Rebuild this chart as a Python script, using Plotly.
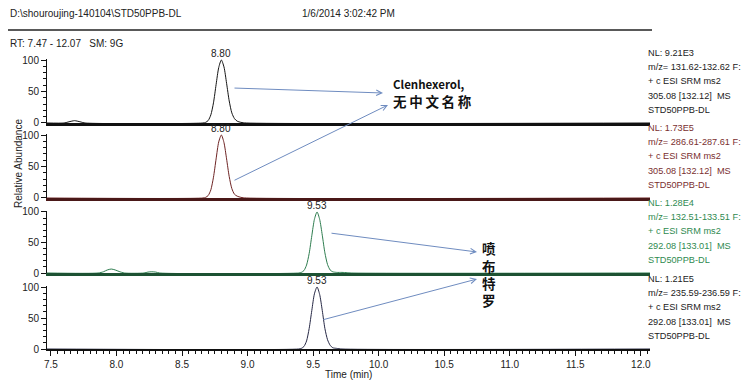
import plotly.graph_objects as go

# ---------------- data ----------------
t1 = [7.47, 7.60, 7.63, 7.66, 7.68, 7.70, 7.73, 7.76, 8.66, 8.68, 8.70, 8.72, 8.74, 8.76, 8.78,
      8.80, 8.82, 8.84, 8.86, 8.88, 8.90, 8.92, 8.95, 8.99, 12.07]
y1 = [0, 0, 1.5, 3, 3.7, 3, 1.5, 0, 0, 1, 4, 13, 32, 61, 88, 100, 89, 63, 35, 16, 7, 3, 1, 0, 0]

t2 = [7.47, 8.66, 8.68, 8.70, 8.72, 8.74, 8.76, 8.78, 8.80, 8.82, 8.84, 8.86, 8.88, 8.90, 8.92,
      8.95, 8.99, 12.07]
y2 = [0, 0, 1, 4, 13, 33, 62, 89, 100, 88, 62, 34, 15, 6, 3, 1, 0, 0]

t3 = [7.47, 7.86, 7.90, 7.93, 7.96, 7.99, 8.02, 8.06, 8.21, 8.24, 8.27, 8.30, 8.33, 9.39, 9.41,
      9.43, 9.45, 9.47, 9.49, 9.51, 9.53, 9.55, 9.57, 9.59, 9.61, 9.63, 9.65, 9.68, 9.72, 9.76,
      9.79, 12.07]
y3 = [0, 0, 2, 5, 6.5, 5, 2.5, 0, 0, 1.5, 2, 1.5, 0, 0, 1, 4, 13, 32, 61, 88, 100, 88, 62, 33,
      14, 5, 2, 1, 1, 0.5, 0, 0]

t4 = [7.47, 9.39, 9.41, 9.43, 9.45, 9.47, 9.49, 9.51, 9.53, 9.55, 9.57, 9.59, 9.61, 9.63, 9.65,
      9.68, 9.72, 12.07]
y4 = [0, 0, 1, 4, 13, 33, 62, 89, 100, 88, 62, 33, 15, 6, 2, 1, 0, 0]

peak_rt = [8.80, 8.80, 9.53, 9.53]
peak_labels = ["8.80", "8.80", "9.53", "9.53"]

info_texts = [
    ["NL: 9.21E3", "m/z= 131.62-132.62 F:", "+ c ESI SRM ms2", "305.08 [132.12]  MS", "STD50PPB-DL"],
    ["NL: 1.73E5", "m/z= 286.61-287.61 F:", "+ c ESI SRM ms2", "305.08 [132.12]  MS", "STD50PPB-DL"],
    ["NL: 1.28E4", "m/z= 132.51-133.51 F:", "+ c ESI SRM ms2", "292.08 [133.01]  MS", "STD50PPB-DL"],
    ["NL: 1.21E5", "m/z= 235.59-236.59 F:", "+ c ESI SRM ms2", "292.08 [133.01]  MS", "STD50PPB-DL"],
]

x_ticks = [7.5, 8.0, 8.5, 9.0, 9.5, 10.0, 10.5, 11.0, 11.5, 12.0]
x_tick_labels = ["7.5", "8.0", "8.5", "9.0", "9.5", "10.0", "10.5", "11.0", "11.5", "12.0"]
y_ticks = [0, 50, 100]

header_left = "D:\\shouroujing-140104\\STD50PPB-DL"
header_date = "1/6/2014 3:02:42 PM"
header_rt = "RT: 7.47 - 12.07   SM: 9G"

# ---------------- layout helpers ----------------
OFF = 8  # page body margin offset
W, H = 755 - OFF, 388 - OFF
L, R, T, B = 47 - OFF, 105, 48 - OFF, 39
PW, PH = W - L - R, H - T - B


def px(p):
    return (p - OFF - L) / PW


def py(p):
    return (H + OFF - B - p) / PH


zero_px = [123, 198, 273, 349]
hund_px = [60, 135, 212, 287]
trace_colors = ["#151515", "#6e2424", "#2e7d4f", "#262845"]
base_colors = ["#111111", "#4a1818", "#1d5233", "#111111"]
text_colors = ["#222222", "#7a2f2f", "#2f8a50", "#222222"]

ts = [t1, t2, t3, t4]
ys = [y1, y2, y3, y4]

fig = go.Figure()
font_main = "Liberation Sans, Arial, sans-serif"

for i in range(4):
    xa = "x" if i == 3 else "x" + str(i + 2)
    ya = "y" if i == 3 else "y" + str(i + 2)
    fig.add_trace(go.Scatter(x=ts[i], y=ys[i], mode="lines", xaxis=xa, yaxis=ya,
                             line=dict(color=trace_colors[i], width=1, shape="spline", smoothing=0.7),
                             hoverinfo="skip", showlegend=False))
    z, h = zero_px[i], hund_px[i]
    top = z - (z - h) * 1.015
    dom = [py(z), py(top)]
    yname = "yaxis" if i == 3 else "yaxis" + str(i + 2)
    xname = "xaxis" if i == 3 else "xaxis" + str(i + 2)
    fig.layout[yname] = dict(domain=dom, range=[0, 101.5], anchor=xa, tickvals=y_ticks,
                             ticks="outside", ticklen=5, tickwidth=1, tickcolor="#111",
                             minor=dict(dtick=10, tick0=0, ticks="outside", ticklen=3,
                                        tickcolor="#111", tickwidth=1),
                             showline=True, linecolor="#111", linewidth=1, showgrid=False,
                             zeroline=False, tickfont=dict(size=10, family=font_main, color="#222"),
                             fixedrange=True)
    xdict = dict(range=[7.47, 12.07], anchor=ya, showline=True, linecolor=base_colors[i],
                 linewidth=2.5 if i < 3 else 2, showgrid=False, zeroline=False, fixedrange=True)
    if i == 3:
        xdict.update(tickvals=x_ticks, ticktext=x_tick_labels, ticks="outside", ticklen=5,
                     tickwidth=1, tickcolor="#111",
                     minor=dict(dtick=0.05, tick0=7.5, ticks="outside", ticklen=3,
                                tickcolor="#111", tickwidth=1),
                     tickfont=dict(size=10, family=font_main, color="#222"))
    else:
        xdict.update(matches="x", showticklabels=False, ticks="")
    fig.layout[xname] = xdict

annotations = []


def label(xp, yp, text, size, color="#222", family=font_main, xanchor="center", angle=0, **kw):
    d = dict(x=px(xp), y=py(yp), xref="paper", yref="paper", text=text,
             showarrow=False, xanchor=xanchor, yanchor="middle", textangle=angle,
             font=dict(size=size, family=family, color=color))
    d.update(kw)
    annotations.append(d)


# peak labels
for i in range(4):
    ya = "y" if i == 3 else "y" + str(i + 2)
    xa = "x" if i == 3 else "x" + str(i + 2)
    annotations.append(dict(x=peak_rt[i], y=100, xref=xa, yref=ya, text=peak_labels[i],
                            showarrow=False, xanchor="center", yanchor="bottom", yshift=-1,
                            font=dict(size=10, family=font_main, color="#222")))
# right info texts
for i in range(4):
    for j, line in enumerate(info_texts[i]):
        label(646, zero_px[i] - 70 + j * 14.2, line, 9.2, text_colors[i], xanchor="left")
# headers
label(8, 13, header_left, 10, xanchor="left")
label(300, 13, header_date, 10, xanchor="left")
label(8, 43, header_rt, 10, xanchor="left")
# axis titles
label(18, 164, "Relative Abundance", 10, angle=-90)
label(348, 375, "Time (min)", 10)
# compound labels
cjk = "Noto Sans CJK SC, sans-serif"
label(391, 84, "<b>Clenhexerol,</b>", 11.5, "#111", cjk, xanchor="left")
label(391, 101, "<b>无\u2009中\u2009文\u2009名\u2009称</b>", 13.5, "#111", cjk, xanchor="left")
for ch, yc in zip("喷布特罗", [248, 265.5, 283, 300]):
    label(489, yc, "<b>" + ch + "</b>", 13.5, "#111", cjk, height=16, valign="middle")
# arrows (head, tail)
arrows = [((383, 93), (233, 88)), ((388, 105), (233, 181)),
          ((477, 252), (330, 233)), ((477, 279), (322, 320))]
for (hx, hy), (tx, ty) in arrows:
    annotations.append(dict(x=px(hx), y=py(hy), xref="paper", yref="paper", ax=tx - hx, ay=ty - hy,
                            axref="pixel", ayref="pixel", text="", showarrow=True,
                            arrowhead=5, arrowsize=1.1, arrowwidth=1, arrowcolor="#6f8cc0"))

fig.update_layout(
    width=W, height=H, margin=dict(l=L, r=R, t=T, b=B),
    paper_bgcolor="white", plot_bgcolor="white", showlegend=False,
    annotations=annotations,
    shapes=[dict(type="line", xref="paper", yref="paper", x0=px(8), x1=px(652),
                 y0=py(30), y1=py(30), line=dict(color="#222", width=1.5))],
)

fig.write_html("out.html")
